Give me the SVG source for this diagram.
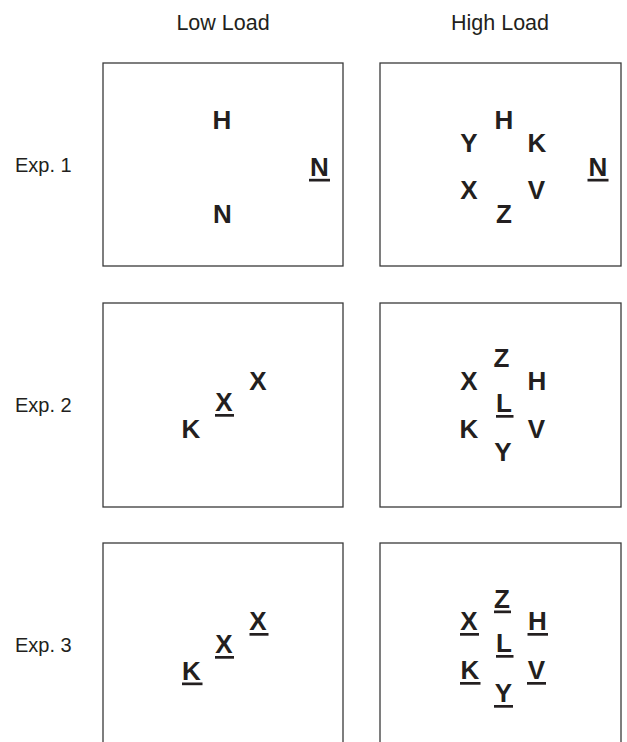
<svg xmlns="http://www.w3.org/2000/svg" width="627" height="742" viewBox="0 0 627 742">
<style>
.bg{fill:#ffffff}
.box{fill:#ffffff;stroke:#3a3a3a;stroke-width:1.3}
.lbl{font-family:"Liberation Sans",Arial,sans-serif;font-size:20px;fill:#231f20}
.hdr{font-family:"Liberation Sans",Arial,sans-serif;font-size:21.5px;fill:#231f20;text-anchor:middle}
.ltr{font-family:"Liberation Sans",Arial,sans-serif;font-size:26px;font-weight:bold;fill:#231f20;text-anchor:middle}
.ul{fill:#231f20}
</style>
<rect class="bg" x="0" y="0" width="627" height="742"/>
<g id="headers">
<text class="hdr" x="223" y="30">Low Load</text>
<text class="hdr" x="500" y="30">High Load</text>
</g>
<g id="row-labels">
<text class="lbl" x="15" y="172">Exp. 1</text>
<text class="lbl" x="15" y="412">Exp. 2</text>
<text class="lbl" x="15" y="652">Exp. 3</text>
</g>
<g id="exp1-low">
<rect class="box" x="103" y="63" width="240" height="203"/>
<text class="ltr" x="222" y="129">H</text>
<text class="ltr" x="222.5" y="223">N</text>
<text class="ltr" x="319.5" y="176">N</text>
<rect class="ul" x="309" y="178.8" width="21" height="2.7"/>
</g>
<g id="exp1-high">
<rect class="box" x="380" y="63" width="241" height="203"/>
<text class="ltr" x="504" y="129">H</text>
<text class="ltr" x="469" y="152">Y</text>
<text class="ltr" x="537" y="152">K</text>
<text class="ltr" x="469" y="199">X</text>
<text class="ltr" x="536.5" y="199">V</text>
<text class="ltr" x="504" y="223">Z</text>
<text class="ltr" x="598" y="176">N</text>
<rect class="ul" x="587.5" y="178.8" width="21" height="2.7"/>
</g>
<g id="exp2-low">
<rect class="box" x="103" y="303" width="240" height="204"/>
<text class="ltr" x="191" y="438">K</text>
<text class="ltr" x="224" y="411">X</text>
<rect class="ul" x="215" y="414" width="19" height="2.7"/>
<text class="ltr" x="258" y="390">X</text>
</g>
<g id="exp2-high">
<rect class="box" x="380" y="303" width="241" height="204"/>
<text class="ltr" x="501.5" y="367">Z</text>
<text class="ltr" x="469" y="389.5">X</text>
<text class="ltr" x="537" y="389.5">H</text>
<text class="ltr" x="504" y="412">L</text>
<rect class="ul" x="496" y="415" width="17.5" height="2.7"/>
<text class="ltr" x="469" y="438">K</text>
<text class="ltr" x="536.5" y="438">V</text>
<text class="ltr" x="503" y="461">Y</text>
</g>
<g id="exp3-low">
<rect class="box" x="103" y="543" width="240" height="220"/>
<text class="ltr" x="258" y="630">X</text>
<rect class="ul" x="249.5" y="633" width="19" height="2.7"/>
<text class="ltr" x="224" y="653">X</text>
<rect class="ul" x="215" y="656" width="19" height="2.7"/>
<text class="ltr" x="191.5" y="679.5">K</text>
<rect class="ul" x="182" y="682.5" width="20.5" height="2.7"/>
</g>
<g id="exp3-high">
<rect class="box" x="380" y="543" width="241" height="220"/>
<text class="ltr" x="502" y="607.5">Z</text>
<rect class="ul" x="494" y="610.5" width="17" height="2.7"/>
<text class="ltr" x="469" y="630">X</text>
<rect class="ul" x="460" y="633" width="19" height="2.7"/>
<text class="ltr" x="537.5" y="630">H</text>
<rect class="ul" x="527.5" y="633" width="20.5" height="2.7"/>
<text class="ltr" x="504" y="652">L</text>
<rect class="ul" x="496" y="655" width="17.5" height="2.7"/>
<text class="ltr" x="470" y="679">K</text>
<rect class="ul" x="460" y="682" width="20.5" height="2.7"/>
<text class="ltr" x="536.5" y="679">V</text>
<rect class="ul" x="527" y="682" width="19" height="2.7"/>
<text class="ltr" x="503.5" y="702">Y</text>
<rect class="ul" x="494" y="705" width="19" height="2.7"/>
</g>
</svg>
